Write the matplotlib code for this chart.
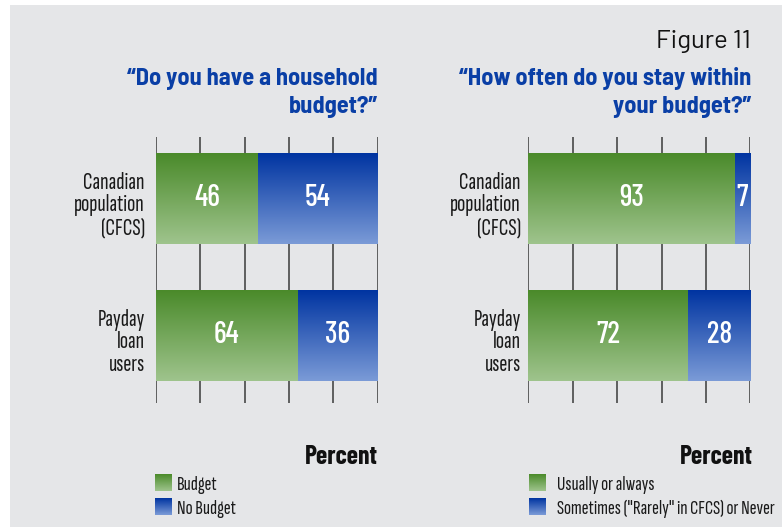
import numpy as np
import matplotlib
matplotlib.use("Agg")
import matplotlib.pyplot as plt
import matplotlib.transforms as mtransforms
from matplotlib.colors import LinearSegmentedColormap
from matplotlib.patches import Rectangle

# Data
groups = ["Canadian\npopulation\n(CFCS)", "Payday\nloan\nusers"]
budget = [46, 64]
no_budget = [54, 36]
stay_within = [93, 72]
not_within = [7, 28]
legend_left = ["Budget", "No Budget"]
legend_right = ["Usually or always", "Sometimes (\"Rarely\" in CFCS) or Never"]
title_left = ["\u201cDo you have a household", "budget?\u201d"]
title_right = ["\u201cHow often do you stay within", "your budget?\u201d"]

W, H = 783, 527
NARROW = ["Sofia Sans Extra Condensed", "DejaVu Sans"]
COND = ["Barlow Condensed", "DejaVu Sans"]
BOLD_COND = ["Barlow Semi Condensed", "DejaVu Sans"]
PLAIN = ["Barlow", "DejaVu Sans"]
BG = "#e5e6e8"
TITLE_BLUE = "#0a3fa6"

green = LinearSegmentedColormap.from_list("g", ["#4a8a2a", "#9fc48d"])
blue = LinearSegmentedColormap.from_list("b", ["#0034a1", "#7b9bd7"])
grad = np.linspace(0, 1, 256).reshape(-1, 1)


def fx(x):
    return x / W


def fy(y):
    return 1 - y / H


def grad_rect(ax, x0, x1, y_top, y_bot, cmap):
    ax.imshow(grad, cmap=cmap, extent=[x0, x1, y_bot, y_top],
              aspect="auto", origin="upper", zorder=3, interpolation="bilinear")


fig = plt.figure(figsize=(W / 100, H / 100), dpi=100, facecolor="white")

# full-figure canvas for background, legends and titles
canvas = fig.add_axes([0, 0, 1, 1], zorder=0)
canvas.set_xlim(0, W)
canvas.set_ylim(H, 0)
canvas.axis("off")
canvas.add_patch(Rectangle((10, 5), 771.5, H - 5, facecolor=BG, edgecolor="none"))


def bar_panel(x0, x1, left_vals, right_vals, label_pad):
    ax = fig.add_axes([fx(x0), fy(403), fx(x1 - x0), (403 - 137) / H], zorder=2)
    ax.set_facecolor("none")
    for s in ax.spines.values():
        s.set_visible(False)
    h = 90 / 137
    ax.vlines(np.arange(0, 101, 20), 1.489, -0.4526, color="#3a3a3a", lw=1.1, zorder=1)
    for i, (a, b) in enumerate(zip(left_vals, right_vals)):
        grad_rect(ax, 0, a, i - h / 2, i + h / 2, green)
        grad_rect(ax, a, a + b, i - h / 2, i + h / 2, blue)
        ax.text(a / 2, i - 0.01, str(a), color="white", ha="center", va="center",
                fontsize=21.5, fontweight=500, family=COND, zorder=4)
        ax.text(a + b / 2, i - 0.01, str(b), color="white", ha="center", va="center",
                fontsize=21.5, fontweight=500, family=COND, zorder=4)
    ax.set_xlim(0, 100)
    ax.set_ylim(1.489, -0.4526)
    ax.set_xticks([])
    ax.set_yticks(range(len(groups)))
    ax.set_yticklabels(groups, family=NARROW, fontsize=17.5, color="#1a1a1a",
                       linespacing=1.05)
    ax.tick_params(axis="y", length=0, pad=label_pad)
    shift = mtransforms.ScaledTranslation(0, -3.5 / 100, fig.dpi_scale_trans)
    for lab in ax.get_yticklabels():
        lab.set_transform(lab.get_transform() + shift)
    return ax


bar_panel(156, 377.7, budget, no_budget, 8)
bar_panel(528.3, 750.3, stay_within, not_within, 5.5)

# titles
canvas.text(750.7, 47.7, "Figure 11", ha="right", va="baseline",
            fontsize=18.5, family=PLAIN, color="#111111")
for (x, lines) in [(378, title_left), (751.7, title_right)]:
    canvas.text(x, 85, lines[0], ha="right", va="baseline", fontsize=17.5,
                fontweight="bold", family=BOLD_COND, color=TITLE_BLUE)
    canvas.text(x, 113, lines[1], ha="right", va="baseline", fontsize=17.5,
                fontweight="bold", family=BOLD_COND, color=TITLE_BLUE)

# axis caption
for x in (378.3, 753):
    canvas.text(x, 464, "Percent", ha="right", va="baseline", fontsize=18.5,
                fontweight="bold", family=COND, color="#111111")

# legends
for (sx, tx, labels) in [(155, 177, legend_left), (529, 557, legend_right)]:
    for j, (lab, cmap) in enumerate(zip(labels, (green, blue))):
        top = 474 + j * 24
        canvas.imshow(grad, cmap=cmap, extent=[sx, sx + 17, top + 17, top],
                      aspect="auto", origin="upper", interpolation="bilinear", zorder=3)
        canvas.text(tx, top + 16, lab, ha="left", va="baseline", fontsize=15,
                    family=NARROW, color="#1a1a1a")
canvas.set_xlim(0, W)
canvas.set_ylim(H, 0)

fig.savefig("out.png", dpi=100, facecolor="white")
